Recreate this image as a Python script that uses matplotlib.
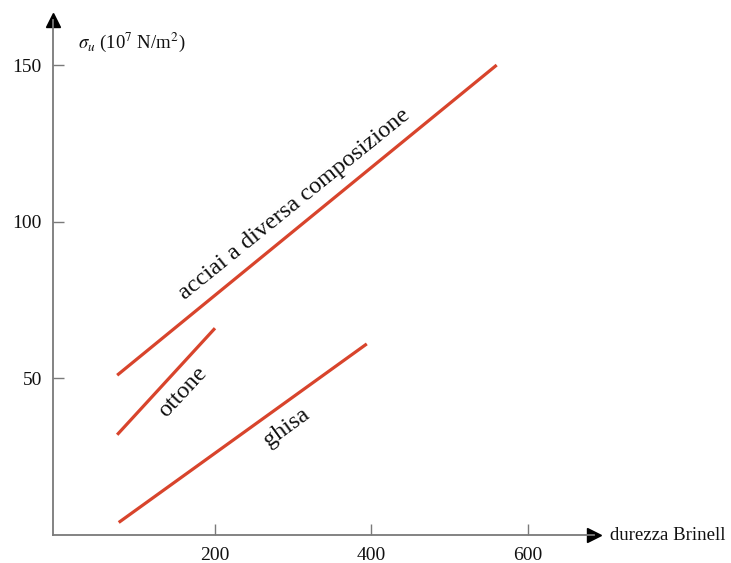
import matplotlib
matplotlib.use("Agg")
import matplotlib.pyplot as plt

plt.rcParams['font.family'] = ['Liberation Serif', 'DejaVu Serif']
plt.rcParams['mathtext.fontset'] = 'stix'

# Ultimate tensile strength vs Brinell hardness
materials = ["acciai a diversa composizione", "ottone", "ghisa"]
hb_start = [75, 75, 77]
hb_end = [560, 200, 394]
sigma_start = [51, 32, 4]
sigma_end = [150, 66, 61]

label_x = [302, 159, 292]
label_y = [105.5, 45.5, 34.5]
label_rot = [39, 47, 36]

x_ticks = [200, 400, 600]
y_ticks = [50, 100, 150]

red = "#d8442c"
axis_col = "#7a7a7a"

fig = plt.figure(figsize=(7.31, 5.63), dpi=100)
W, H = 731, 563
ax = fig.add_axes([53 / W, (H - 535) / H, (594 - 53) / W, (535 - 20) / H])
ax.set_xlim(-7, (594 - 58.5) / 0.7825)
ax.set_ylim(0, (534.5 - 20) / 3.13)

for x0, x1, y0, y1 in zip(hb_start, hb_end, sigma_start, sigma_end):
    ax.plot([x0, x1], [y0, y1], color=red, lw=2.3, solid_capstyle='butt')

for name, tx, ty, rot in zip(materials, label_x, label_y, label_rot):
    ax.text(tx, ty, name, rotation=rot, rotation_mode='anchor',
            ha='center', va='center', fontsize=17.5, color='#111111')

for s in ['top', 'right']:
    ax.spines[s].set_visible(False)
for s in ['left', 'bottom']:
    ax.spines[s].set_color(axis_col)
    ax.spines[s].set_linewidth(1.3)

ax.set_xticks(x_ticks)
ax.set_yticks(y_ticks)
ax.tick_params(direction='in', length=8, width=1.0, color=axis_col,
               labelsize=14, labelcolor='#111111')
ax.tick_params(axis='x', pad=9)
ax.tick_params(axis='y', pad=8)

# axis arrows
ax.plot(1, 0, marker='>', ms=10, color='black', transform=ax.transAxes, clip_on=False)
ax.plot(0, 1, marker='^', ms=10, color='black', transform=ax.transAxes, clip_on=False)

fig.text(78 / W, 1 - 42 / H, r'$\sigma_u$ (10$^7$ N/m$^2$)', fontsize=13.5,
         ha='left', va='center', color='#111111')
fig.text(610 / W, 1 - 536 / H, 'durezza Brinell', fontsize=13.5,
         ha='left', va='center', color='#111111')

fig.savefig('out.png', dpi=100)
